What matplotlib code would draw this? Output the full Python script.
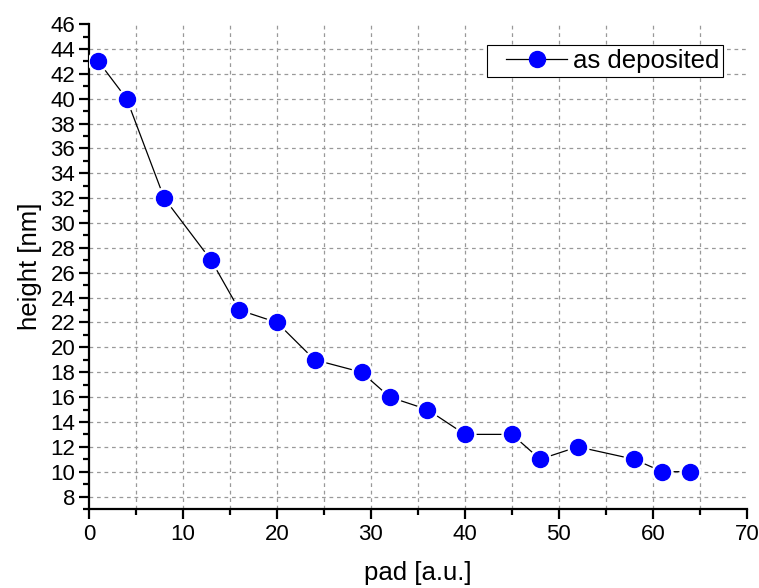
import numpy as np
import matplotlib.pyplot as plt
from matplotlib.ticker import MultipleLocator
from matplotlib.legend_handler import HandlerLine2D

plt.rcParams['font.family'] = ['Liberation Sans', 'DejaVu Sans']

# data
pad = [1, 4, 8, 13, 16, 20, 24, 29, 32, 36, 40, 45, 48, 52, 58, 61, 64]
height = [43, 40, 32, 27, 23, 22, 19, 18, 16, 15, 13, 13, 11, 12, 11, 10, 10]


class ShiftedLine(HandlerLine2D):
    # leave some empty room on the left of the legend handle
    def create_artists(self, legend, orig_handle, xdescent, ydescent,
                       width, height, fontsize, trans):
        shift = 0.2 * width
        return super().create_artists(legend, orig_handle, xdescent - shift,
                                      ydescent, width - shift, height,
                                      fontsize, trans)


fig = plt.figure(figsize=(7.59, 5.88), dpi=100)
ax = fig.add_axes([0.1173, 0.1344, 0.8667, 0.8246])

# line, white halo so the line stops short of each marker, then markers
ax.plot(pad, height, color='black', lw=0.9, zorder=3)
ax.plot(pad, height, ls='', marker='o', ms=15, color='white', zorder=4)
ax.plot(pad, height, ls='', marker='o', ms=11.5, color='#0000ff', zorder=5)
# proxy for the legend
h, = ax.plot([], [], color='black', lw=0.9, marker='o', ms=11.5,
             mfc='#0000ff', mec='#0000ff', label='as deposited')

ax.set_xlim(0, 70)
ax.set_ylim(7, 46)
ax.xaxis.set_major_locator(MultipleLocator(10))
ax.xaxis.set_minor_locator(MultipleLocator(5))
ax.yaxis.set_major_locator(MultipleLocator(2))
ax.yaxis.set_minor_locator(MultipleLocator(1))

for s in ['top', 'right']:
    ax.spines[s].set_visible(False)
for s in ['left', 'bottom']:
    ax.spines[s].set_linewidth(1.6)

ax.tick_params(which='major', direction='out', length=7, width=1.6, labelsize=16)
ax.tick_params(axis='x', which='major', pad=4)
ax.tick_params(axis='y', which='major', pad=3)
ax.tick_params(which='minor', direction='out', length=4, width=1.6)

# dashed grid: x every 5, y every 2
for xv in np.arange(5, 70, 5):
    ax.axvline(xv, color='#999999', lw=0.9, ls=(0, (3, 3)), zorder=1)
for yv in np.arange(8, 46, 2):
    ax.axhline(yv, color='#999999', lw=0.9, ls=(0, (3, 3)), zorder=1)

ax.set_xlabel('pad [a.u.]', fontsize=18.5, labelpad=11)
ax.set_ylabel('height [nm]', fontsize=18.5, labelpad=6)

leg = ax.legend(handles=[h], loc='upper right', bbox_to_anchor=(0.9635, 0.9567),
                fontsize=18.5, frameon=True, fancybox=False, framealpha=1,
                edgecolor='black', handlelength=3.0, borderpad=0.15,
                handletextpad=0.2, borderaxespad=0,
                handler_map={h: ShiftedLine()})
leg.get_frame().set_linewidth(0.8)

fig.savefig('out.png', dpi=100)
